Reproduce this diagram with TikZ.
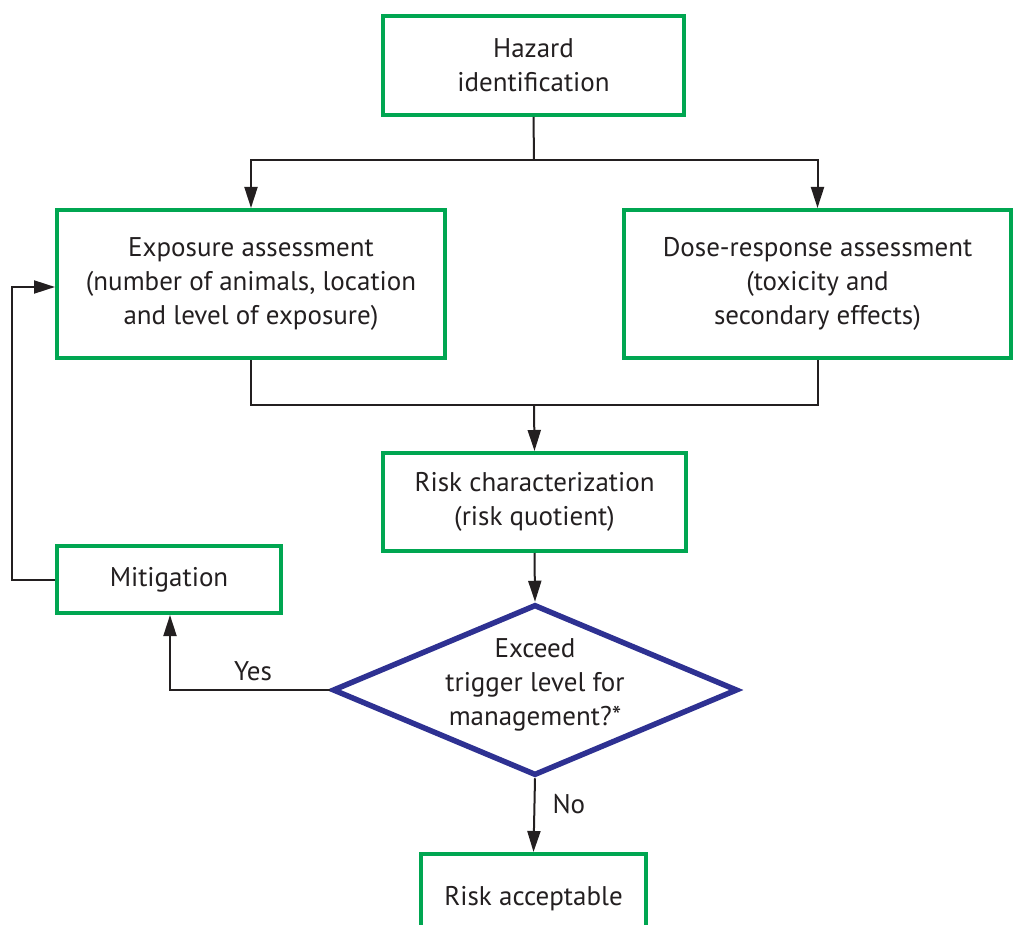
\documentclass[tikz,border=0pt]{standalone}
\usepackage{fontspec}
\setmainfont{PT Sans}
\usetikzlibrary{shapes.geometric,arrows.meta}
\definecolor{boxgreen}{HTML}{00A651}
\definecolor{diablue}{HTML}{2E3192}
\definecolor{ink}{HTML}{231F20}
\begin{document}
\begin{tikzpicture}[x=1pt,y=-1pt,
  font=\fontsize{27}{34}\selectfont, text=ink,
  stepbox/.style={draw=boxgreen, line width=4pt, align=center, inner sep=0pt},
  decision/.style={diamond, draw=diablue, line width=5.5pt, inner sep=0pt, aspect=2.37},
  link/.style={draw=ink, line width=2pt},
  arrow/.style={link, -{Triangle[length=21pt,width=13pt]}}]
\useasboundingbox (0,0) rectangle (1016,925);
\clip (0,0) rectangle (1016,925);

\node[stepbox, minimum width=301pt, minimum height=99pt] (hazard) at (533.5,65.5) {Hazard\\identification};
\node[stepbox, minimum width=388pt, minimum height=148pt] (expo) at (251,284) {Exposure assessment\\(number of animals, location\\and level of exposure)};
\node[stepbox, minimum width=387pt, minimum height=148pt] (dose) at (817.5,284) {Dose-response assessment\\(toxicity and\\secondary effects)};
\node[stepbox, minimum width=303pt, minimum height=98pt] (riskc) at (534.5,502) {Risk characterization\\(risk quotient)};
\node[stepbox, minimum width=224pt, minimum height=67pt] (mitig) at (169,579.5) {Mitigation};
\node[decision, minimum width=405pt, minimum height=171pt] (exceed) at (535,690) {};
\node[align=center] (exceedtext) at (535,685) {Exceed\\trigger level for\\management?*};
\node[stepbox, minimum width=225pt, minimum height=90pt] (accept) at (533.5,899) {Risk acceptable};

\coordinate (split) at (534,160);
\coordinate (merge) at (534,405);
\coordinate (yescorner) at (170,690);
\coordinate (loopdown) at (12,579.5);
\coordinate (loopup) at (12,287);

% hazard identification fans out to the two assessments
\draw[link] (hazard.south) -- (split);
\draw[arrow] (split) -| (expo.north);
\draw[arrow] (split) -| (dose.north);

% both assessments merge into risk characterization
\draw[link] (expo.south) |- (merge);
\draw[link] (dose.south) |- (merge);
\draw[arrow] (merge) -- (riskc.north);

\draw[arrow] (riskc.south) -- (exceed.north);

% decision outcomes
\draw[arrow] (exceed.west) -- (yescorner) -- (yescorner |- mitig.south);
\node[anchor=base] (yes) at (253,680) {Yes};
\draw[arrow] (exceed.south) -- (accept.north);
\node[anchor=base west] (no) at (549,813) {No};

% mitigation loops back to exposure assessment
\draw[arrow] (mitig.west) -- (loopdown) -- (loopup) -- (expo.west |- loopup);
\end{tikzpicture}
\end{document}
